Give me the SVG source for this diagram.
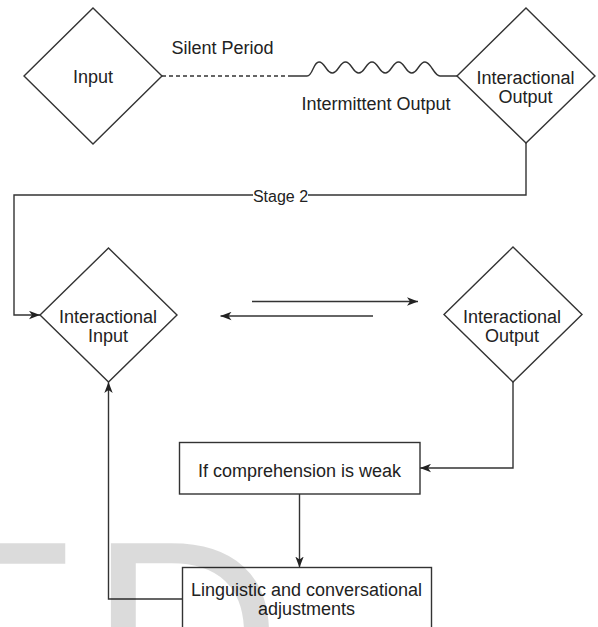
<svg xmlns="http://www.w3.org/2000/svg" width="598" height="627" viewBox="0 0 598 627">
  <style>
    .shape { fill: #ffffff; stroke: #333333; stroke-width: 1.4; }
    .edge { fill: none; stroke: #333333; stroke-width: 1.4; }
    .lbl { font-family: "Liberation Sans", Arial, sans-serif; font-size: 18px; fill: #222222; text-anchor: middle; }
    .small { font-size: 16px; }
    .wm { font-family: "Liberation Sans", Arial, sans-serif; font-size: 267px; fill: #000000; fill-opacity: 0.14; }
  </style>
  <defs>
    <marker id="arrow" viewBox="0 0 11 9" markerWidth="11" markerHeight="9" refX="11" refY="4.5" orient="auto" markerUnits="userSpaceOnUse">
      <path d="M0,0.3 L11,4.5 L0,8.7 L3,4.5 Z" fill="#222222"/>
    </marker>
    <clipPath id="wmclip">
      <rect x="0" y="530" width="90" height="36"/>
    </clipPath>
  </defs>
  <rect x="0" y="0" width="598" height="627" fill="#ffffff"/>

  <g id="connectors">
    <path class="edge" d="M162,76 L292,76" stroke-dasharray="4,3"/>
    <path class="edge" d="M292,76 L307,76 C313,76 313,62 319,62 C325,62 326.25,73 332.25,73 C338.25,73 339.5,62 345.5,62 C351.5,62 352.75,73 358.75,73 C364.75,73 366,62 372,62 C378,62 379.25,73 385.25,73 C391.25,73 392.5,62 398.5,62 C404.5,62 405.75,73 411.75,73 C417.75,73 419,62 425,62 C431,62 434,76 440,76 L457,76"/>
    <path class="edge" d="M526,143 L526,195 L14,195 L14,315 L40,315" marker-end="url(#arrow)"/>
    <path class="edge" d="M252,301.5 L418,301.5" marker-end="url(#arrow)"/>
    <path class="edge" d="M373,316 L220.5,316" marker-end="url(#arrow)"/>
    <path class="edge" d="M513,382 L513,468 L420,468" marker-end="url(#arrow)"/>
    <path class="edge" d="M299.5,494 L299.5,567.5" marker-end="url(#arrow)"/>
    <path class="edge" d="M182.5,599 L108.5,599 L108.5,382" marker-end="url(#arrow)"/>
    <rect x="253" y="187" width="55" height="17" fill="#ffffff"/>
    <text class="lbl small" x="280.5" y="201.5">Stage 2</text>
    <text class="lbl" x="222.5" y="54.3">Silent Period</text>
    <text class="lbl" x="376" y="110">Intermittent Output</text>
  </g>

  <g id="input">
    <path class="shape" d="M93,8 L162,76 L93,144 L24,76 Z"/>
    <text class="lbl" x="93" y="82.5">Input</text>
  </g>

  <g id="interactional-output-top">
    <path class="shape" d="M526,8 L595,76 L526,143 L457,76 Z"/>
    <text class="lbl" x="525.5" y="83.5">Interactional</text>
    <text class="lbl" x="525.5" y="103">Output</text>
  </g>

  <g id="interactional-input">
    <path class="shape" d="M108.5,248 L177,315 L108.5,382 L40,315 Z"/>
    <text class="lbl" x="108" y="322.5">Interactional</text>
    <text class="lbl" x="108" y="341.7">Input</text>
  </g>

  <g id="interactional-output-mid">
    <path class="shape" d="M513,247 L582,314.5 L513,382 L444,314.5 Z"/>
    <text class="lbl" x="512" y="322.5">Interactional</text>
    <text class="lbl" x="512" y="341.7">Output</text>
  </g>

  <g id="comprehension">
    <rect class="shape" x="179.5" y="442.5" width="240.5" height="51.5"/>
    <text class="lbl" x="299.5" y="476.5">If comprehension is weak</text>
  </g>

  <g id="adjustments">
    <rect class="shape" x="182.5" y="567.5" width="249" height="70"/>
    <text class="lbl" x="306.5" y="595.5">Linguistic and conversational</text>
    <text class="lbl" x="306.5" y="614.5">adjustments</text>
  </g>

  <g id="watermark">
    <text class="wm" x="-96" y="727" clip-path="url(#wmclip)">E</text>
    <text class="wm" x="89" y="727">D</text>
  </g>
</svg>
